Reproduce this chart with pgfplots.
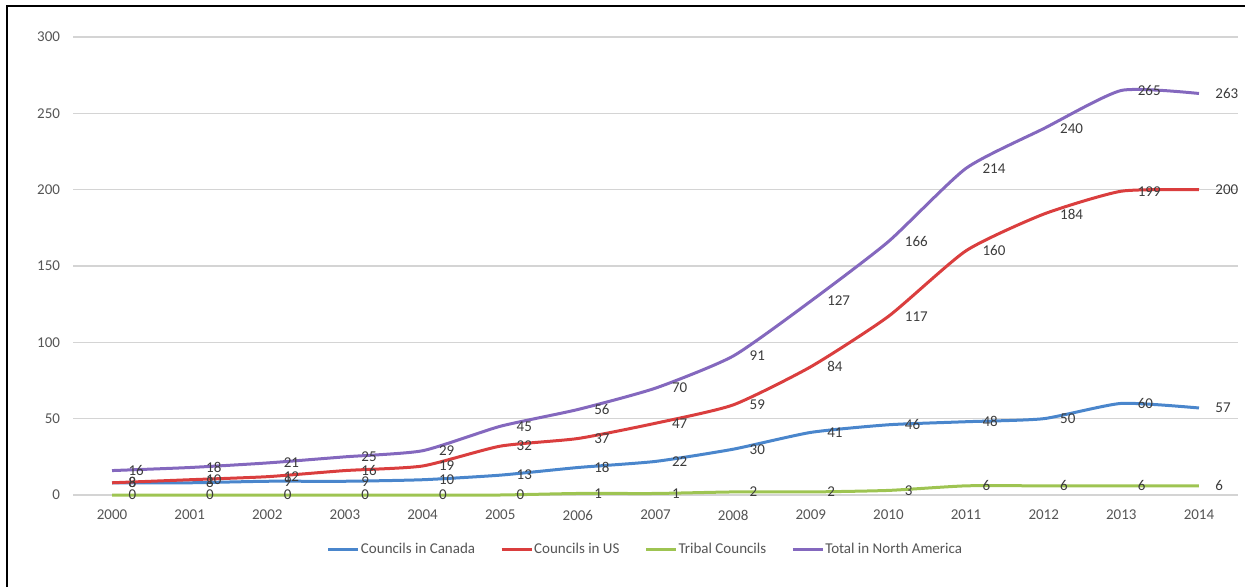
\documentclass[border=0pt]{standalone}
\usepackage{pgfplots}
\pgfplotsset{compat=1.18}
\usepackage{fontspec}
\setmainfont{Carlito}
\definecolor{cblue}{RGB}{74,134,204}
\definecolor{cred}{RGB}{218,62,62}
\definecolor{cgreen}{RGB}{158,196,82}
\definecolor{cpurple}{RGB}{132,104,190}
\definecolor{gridgray}{RGB}{212,212,212}
\definecolor{tickgray}{RGB}{85,85,85}
\definecolor{lblgray}{RGB}{60,60,60}
\begin{document}
\begin{tikzpicture}[x=1pt,y=1pt]
\path[use as bounding box] (0,0) rectangle (1245,587);
\draw[black, line width=2.5pt] (7,0) -- (7,581) -- (1245,581);
\begin{axis}[
  at={(73.2pt,92pt)}, anchor=south west,
  scale only axis, width=1164.6pt, height=458pt,
  xmin=-0.5, xmax=14.5, ymin=0, ymax=300,
  xtick={0,1,2,3,4,5,6,7,8,9,10,11,12,13,14},
  xticklabels={2000,2001,2002,2003,2004,2005,2006,2007,2008,2009,2010,2011,2012,2013,2014},
  ytick={0,50,100,150,200,250,300},
  ymajorgrids, grid style={line width=1.5pt, color=gridgray},
  axis line style={draw=none},
  major tick length=0pt,
  /pgf/number format/assume math mode=true,
  tick label style={font=\fontsize{15}{18}\selectfont, text=tickgray},
  yticklabel style={inner sep=0pt, anchor=east, xshift=-13pt},
  xticklabel style={inner sep=0pt, anchor=north, yshift=-15pt},
  every axis plot/.append style={line width=3pt, smooth, tension=0.35},
  nodes near coords,
  every node near coord/.append style={anchor=west, inner sep=0pt, xshift=15pt, font=\fontsize{15}{18}\selectfont, text=lblgray},
  legend style={draw=none, at={(0.491,-0.118)}, anchor=center, legend columns=4,
    font=\fontsize{15}{18}\selectfont, text=tickgray,
    /tikz/every even column/.append style={column sep=24pt},
    nodes={inner sep=1pt}},
  legend image code/.code={\draw[#1, line width=3pt] (0pt,0pt) -- (30pt,0pt);},
  clip=false,
]
\addplot[cblue] coordinates {(0,8)(1,8)(2,9)(3,9)(4,10)(5,13)(6,18)(7,22)(8,30)(9,41)(10,46)(11,48)(12,50)(13,60)(14,57)};
\addlegendentry{Councils in Canada}
\addplot[cred] coordinates {(0,8)(1,10)(2,12)(3,16)(4,19)(5,32)(6,37)(7,47)(8,59)(9,84)(10,117)(11,160)(12,184)(13,199)(14,200)};
\addlegendentry{Councils in US}
\addplot[cgreen] coordinates {(0,0)(1,0)(2,0)(3,0)(4,0)(5,0)(6,1)(7,1)(8,2)(9,2)(10,3)(11,6)(12,6)(13,6)(14,6)};
\addlegendentry{Tribal Councils}
\addplot[cpurple] coordinates {(0,16)(1,18)(2,21)(3,25)(4,29)(5,45)(6,56)(7,70)(8,91)(9,127)(10,166)(11,214)(12,240)(13,265)(14,263)};
\addlegendentry{Total in North America}
\end{axis}
\end{tikzpicture}
\end{document}
